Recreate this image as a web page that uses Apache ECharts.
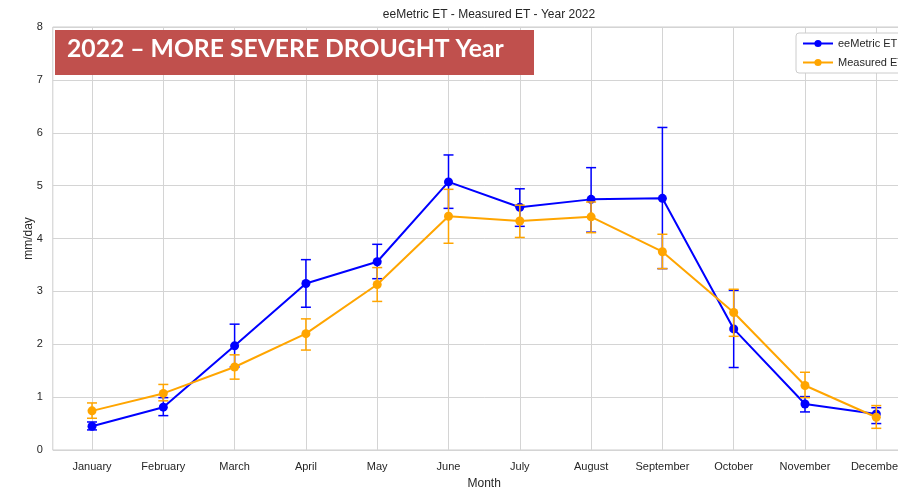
<!DOCTYPE html>
<html>
<head>
<meta charset="utf-8">
<title>eeMetric ET - Measured ET - Year 2022</title>
<script src="https://cdn.jsdelivr.net/npm/echarts@6/dist/echarts.min.js"></script>
<style>
  html, body { margin: 0; padding: 0; background: #fff; overflow: hidden; }
  /* the plot runs past the right edge of the window, so the canvas is wider than the page */
  #chart { width: 930px; height: 490px; }
</style>
</head>
<body>
<div id="chart"></div>
<script>
// Monthly mean ET (mm/day) with confidence intervals, 2022
const months = ['January', 'February', 'March', 'April', 'May', 'June',
                'July', 'August', 'September', 'October', 'November', 'December'];

const eeMetricMean = [0.45, 0.81, 1.97, 3.15, 3.56, 5.07, 4.59, 4.74, 4.76, 2.29, 0.87, 0.68];
const eeMetricLow  = [0.38, 0.65, 1.57, 2.70, 3.24, 4.57, 4.23, 4.12, 3.43, 1.56, 0.72, 0.50];
const eeMetricHigh = [0.53, 0.99, 2.38, 3.60, 3.89, 5.58, 4.94, 5.34, 6.10, 3.02, 1.01, 0.80];

const measuredMean = [0.74, 1.07, 1.57, 2.20, 3.13, 4.42, 4.33, 4.41, 3.75, 2.60, 1.22, 0.62];
const measuredLow  = [0.60, 0.93, 1.34, 1.89, 2.81, 3.91, 4.02, 4.11, 3.43, 2.15, 0.99, 0.41];
const measuredHigh = [0.89, 1.24, 1.80, 2.48, 3.45, 4.93, 4.63, 4.69, 4.08, 3.04, 1.47, 0.84];

const yTicks = [0, 1, 2, 3, 4, 5, 6, 7, 8];

const BLUE = '#0000ff';
const ORANGE = '#ffa500';
const FONT = "'Liberation Sans', Arial, sans-serif";
const monthIdx = months.map((_, i) => i);

function linePoints(values) {
  return values.map((v, i) => [i, v]);
}
function errorPoints(low, high) {
  return low.map((lo, i) => [i, lo, high[i]]);
}
function errorBarRenderer(color) {
  return function (params, api) {
    const x = api.value(0);
    const top = api.coord([x, api.value(2)]);
    const bot = api.coord([x, api.value(1)]);
    const hw = 5;
    const style = { stroke: color, lineWidth: 1.5 };
    return {
      type: 'group',
      children: [
        { type: 'line', shape: { x1: top[0], y1: top[1], x2: bot[0], y2: bot[1] }, style },
        { type: 'line', shape: { x1: top[0] - hw, y1: top[1], x2: top[0] + hw, y2: top[1] }, style },
        { type: 'line', shape: { x1: bot[0] - hw, y1: bot[1], x2: bot[0] + hw, y2: bot[1] }, style }
      ]
    };
  };
}

const chart = echarts.init(document.getElementById('chart'), null, { renderer: 'canvas' });

chart.setOption({
  animation: false,
  backgroundColor: '#ffffff',
  title: {
    text: 'eeMetric ET - Measured ET - Year 2022',
    left: 484,
    textAlign: 'center',
    top: 4,
    textStyle: { fontFamily: FONT, fontSize: 12, fontWeight: 'normal', color: '#262626' }
  },
  legend: {
    data: ['eeMetric ET', 'Measured ET'],
    orient: 'vertical',
    left: 796,
    top: 33,
    itemWidth: 30,
    itemHeight: 9,
    itemGap: 8,
    padding: [5, 8, 5, 6],
    borderColor: '#cccccc',
    borderWidth: 1,
    borderRadius: 3,
    backgroundColor: '#ffffff',
    textStyle: { fontFamily: FONT, fontSize: 11, color: '#262626' }
  },
  grid: {
    left: 52.8,
    top: 27,
    width: 862.7,
    height: 423,
    outerBoundsMode: 'none',
    containLabel: false,
    show: true,
    borderColor: '#cccccc',
    borderWidth: 1,
    backgroundColor: '#ffffff'
  },
  xAxis: {
    type: 'value',
    min: -0.55,
    max: 11.55,
    name: 'Month',
    nameLocation: 'middle',
    nameGap: 28,
    nameMoveOverlap: false,
    nameTextStyle: { fontFamily: FONT, fontSize: 12, color: '#262626' },
    axisLine: { show: false },
    axisTick: { show: false, customValues: monthIdx },
    splitLine: { show: true, lineStyle: { color: '#d4d4d4', width: 1 } },
    axisLabel: {
      customValues: monthIdx,
      margin: 11,
      fontFamily: FONT,
      fontSize: 11,
      color: '#262626',
      formatter: (v) => months[Math.round(v)] || ''
    }
  },
  yAxis: {
    type: 'value',
    min: 0,
    max: 8,
    interval: 1,
    name: 'mm/day',
    nameLocation: 'middle',
    nameRotate: 90,
    nameGap: 18,
    nameMoveOverlap: false,
    nameTextStyle: { fontFamily: FONT, fontSize: 12, color: '#262626' },
    axisLine: { show: false },
    axisTick: { show: false },
    splitLine: { show: true, lineStyle: { color: '#d4d4d4', width: 1 } },
    axisLabel: {
      margin: 10,
      fontFamily: FONT,
      fontSize: 11,
      color: '#262626',
      formatter: (v) => (yTicks.indexOf(v) >= 0 ? String(v) : '')
    }
  },
  graphic: [
    {
      type: 'rect',
      left: 55,
      top: 30,
      shape: { width: 479, height: 45 },
      style: { fill: '#c0504d' },
      z: 100
    },
    {
      type: 'text',
      left: 67,
      top: 37,
      style: {
        text: '2022 – MORE SEVERE DROUGHT Year',
        fill: '#ffffff',
        font: "bold 24.7px Lato, 'Open Sans', sans-serif"
      },
      z: 101
    }
  ],
  series: [
    {
      name: 'eeMetric ET interval',
      type: 'custom',
      renderItem: errorBarRenderer(BLUE),
      data: errorPoints(eeMetricLow, eeMetricHigh),
      encode: { x: 0, y: [1, 2] },
      z: 2,
      silent: true
    },
    {
      name: 'eeMetric ET',
      type: 'line',
      data: linePoints(eeMetricMean),
      symbol: 'circle',
      symbolSize: 9,
      showSymbol: true,
      lineStyle: { color: BLUE, width: 2 },
      itemStyle: { color: BLUE },
      z: 3
    },
    {
      name: 'Measured ET interval',
      type: 'custom',
      renderItem: errorBarRenderer(ORANGE),
      data: errorPoints(measuredLow, measuredHigh),
      encode: { x: 0, y: [1, 2] },
      z: 4,
      silent: true
    },
    {
      name: 'Measured ET',
      type: 'line',
      data: linePoints(measuredMean),
      symbol: 'circle',
      symbolSize: 9,
      showSymbol: true,
      lineStyle: { color: ORANGE, width: 2 },
      itemStyle: { color: ORANGE },
      z: 5
    }
  ]
});
</script>
</body>
</html>
